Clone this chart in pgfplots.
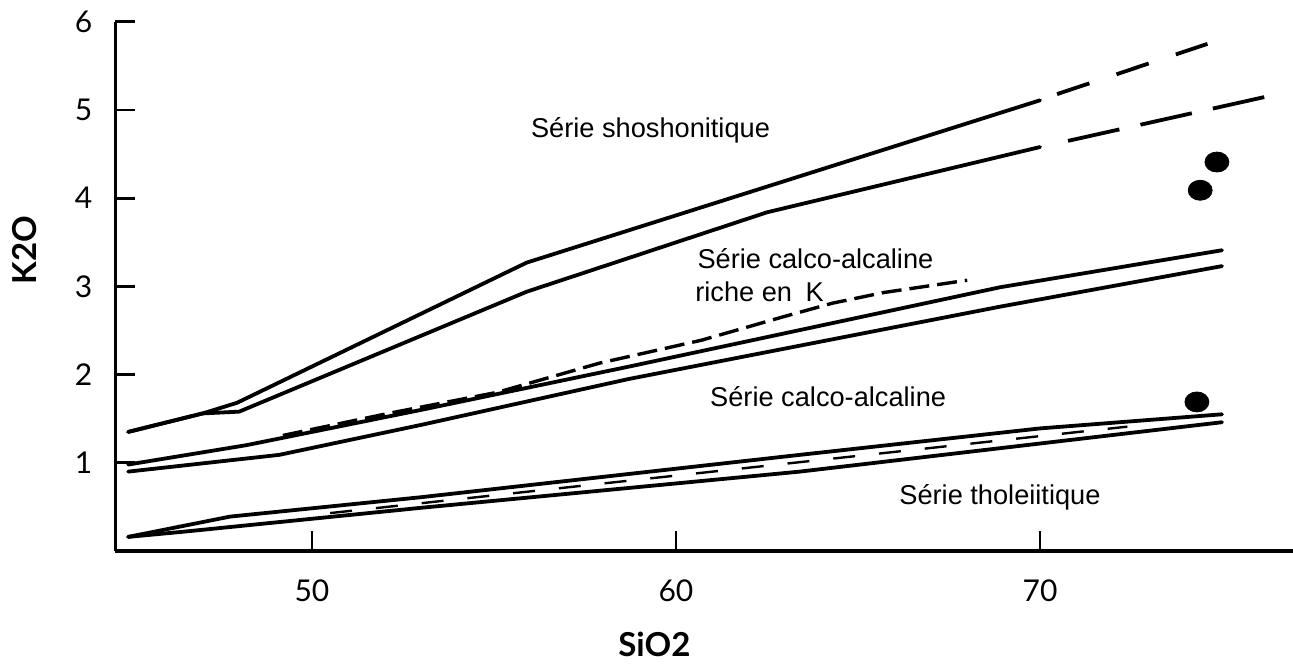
\documentclass[border=0pt]{standalone}
\usepackage{fontspec}
\setmainfont{Liberation Sans}
\newfontfamily\tickfont{Lato}
\usepackage{pgfplots}
\pgfplotsset{compat=1.18}
\tikzset{label node/.style={font=\fontsize{13.6}{13.6}\selectfont, inner sep=0pt}}

\begin{document}
\begin{tikzpicture}
\begin{axis}[
  scale only axis,
  width=589.7pt, height=264.6pt,
  xmin=44.6, xmax=77, ymin=0, ymax=6,
  axis lines=left,
  axis line style={-, line width=1.8pt},
  xtick={50,60,70}, ytick={1,2,3,4,5,6},
  tick align=inside,
  major tick length=10pt,
  tick style={line width=1.4pt, black},
  /pgf/number format/assume math mode=true,
  ticklabel style={font=\tickfont\fontsize{15}{15}\selectfont},
  xticklabel style={yshift=-11pt},
  yticklabel style={xshift=-8pt},
  xlabel={SiO2}, ylabel={K2O},
  xlabel style={font=\tickfont\bfseries\fontsize{16.5}{16.5}\selectfont,
    at={(axis description cs:0.457,-0.176)}, anchor=center},
  ylabel style={font=\tickfont\bfseries\fontsize{16.5}{16.5}\selectfont,
    at={(axis description cs:-0.077,0.569)}, anchor=center},
  clip=false,
  every axis plot/.append style={line join=round, line cap=round},
]
% shoshonitic boundary (two lines)
\addplot[black, line width=1.9pt] coordinates {
  (44.95,1.35) (47.0,1.56) (47.94,1.68) (55.9,3.27) (70,5.11)};
\addplot[black, line width=1.9pt, line cap=butt, dash pattern=on 17pt off 14.3pt] coordinates {
  (70.47,5.18) (74.6,5.75)};
\addplot[black, line width=1.9pt] coordinates {
  (44.95,1.35) (47.0,1.56) (48.0,1.58) (55.9,2.94) (62.5,3.84) (70,4.58)};
\addplot[black, line width=1.9pt, line cap=butt, dash pattern=on 26.3pt off 10.8pt] coordinates {
  (70.77,4.65) (76.2,5.15)};

% high-K calc-alkaline boundary
\addplot[black, line width=1.9pt] coordinates {
  (44.95,0.98) (48.2,1.20) (53,1.60) (58.7,2.09) (68.9,2.99) (75,3.41)};
\addplot[black, line width=1.9pt] coordinates {
  (44.95,0.90) (49.1,1.09) (53,1.43) (58.7,1.95) (68.9,2.77) (75,3.23)};
\addplot[black, line width=1.7pt, line cap=butt, dash pattern=on 10pt off 4pt] coordinates {
  (49.2,1.31) (52.1,1.56) (55.1,1.80) (57.9,2.13) (60.7,2.39) (62.9,2.65)
  (64.3,2.81) (65.7,2.93) (68.0,3.07)};

% tholeiitic boundary
\addplot[black, line width=1.9pt] coordinates {
  (44.95,0.16) (47.75,0.39) (53,0.61) (63.4,1.09) (70,1.39) (75,1.55)};
\addplot[black, line width=1.9pt] coordinates {
  (44.95,0.16) (46.5,0.22) (53,0.49) (63.4,0.90) (75,1.46)};
\addplot[black, line width=1.2pt, line cap=butt, dash pattern=on 11pt off 12pt] coordinates {
  (50.5,0.43) (72.4,1.41)};

% samples
\addplot[only marks, mark=*, mark size=5pt, mark options={xscale=1.2, fill=black}] coordinates {
  (74.86,4.41) (74.4,4.09) (74.31,1.69)};

\node[label node] at (axis cs:59.3,4.77) {Série shoshonitique};
\node[label node, anchor=west] at (axis cs:60.58,3.32) {Série calco-alcaline};
\node[label node, anchor=west] at (axis cs:60.52,2.94) {riche en\enspace K};
\node[label node] at (axis cs:64.18,1.75) {Série calco-alcaline};
\node[label node] at (axis cs:68.9,0.61) {Série tholeiitique};

\coordinate (sw) at (rel axis cs:0,0);
\end{axis}
\pgfresetboundingbox
\useasboundingbox (sw) ++(-57.7pt,-56.5pt) rectangle ++(646.5pt,332pt);
\end{tikzpicture}
\end{document}
